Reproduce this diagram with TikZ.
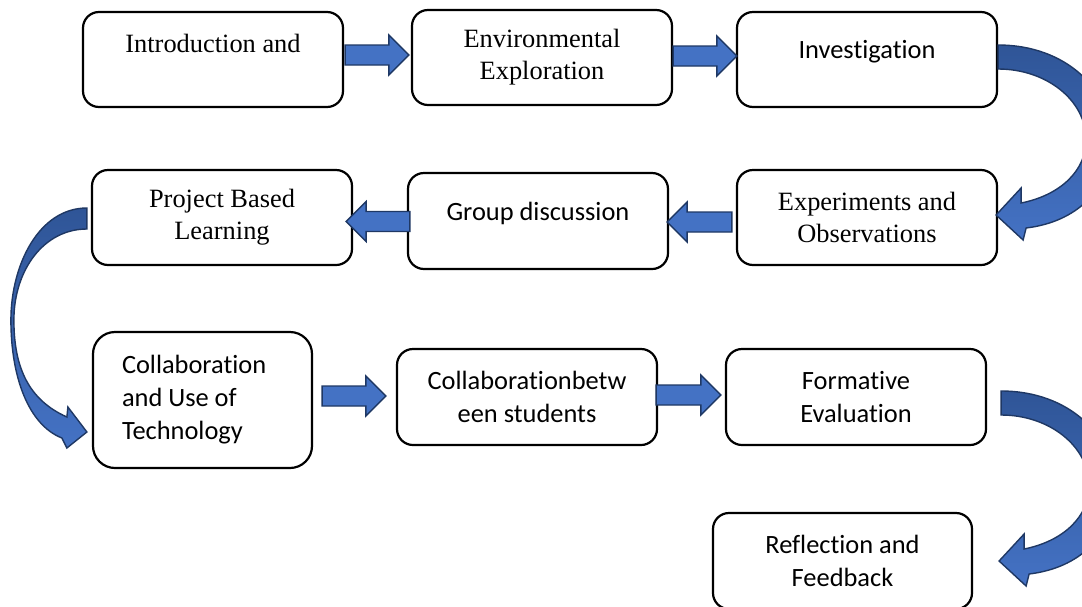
\documentclass[tikz,border=0pt]{standalone}
\usepackage{fontspec}
\setmainfont{Liberation Serif}
\newfontfamily\calibri[Ligatures=NoCommon]{Carlito}
\usepackage{tikz}
\usetikzlibrary{calc}
\definecolor{arrowblue}{RGB}{68,114,196}
\definecolor{arrowdark}{RGB}{47,85,151}
\definecolor{arrowedge}{RGB}{31,56,100}
\tikzstyle{stagebox} = [rectangle, draw, line width=1.1pt, rounded corners=8pt, minimum width=130pt, minimum height=47.5pt, align=center, inner sep=2pt]
\tikzstyle{serifbox} = [stagebox, font=\fontsize{13.2}{16}\selectfont]
\tikzstyle{sansbox} = [stagebox, font=\calibri\fontsize{13.2}{16.5}\selectfont]
\tikzstyle{blockarrow} = [fill=arrowblue, draw=arrowedge, line width=0.7pt]
\tikzstyle{bendarrow} = [top color=arrowdark, bottom color=arrowblue, draw=arrowedge, line width=0.7pt]
\newcommand{\blockarrow}[2]{\path[blockarrow] let \p1=#1, \p2=#2, \p3=($(\x2,\y1)!10pt!(\x1,\y1)$) in
    (\x1,{\y1+5pt}) -- (\x3,{\y1+5pt}) -- (\x3,{\y1+10pt}) -- (\x2,\y1)
    -- (\x3,{\y1-10pt}) -- (\x3,{\y1-5pt}) -- (\x1,{\y1-5pt}) -- cycle;}
\newcommand{\bendarrow}[1]{\draw[bendarrow, shift={#1}] (0,-14.5)
    .. controls (68,-14.5) and (113,30.5) .. (113,80.5)
    .. controls (113,130.5) and (78,162.5) .. (28,168.5)
    -- (25,180.5) -- (-2,155.5) -- (23,128.5) -- (23,143.5)
    .. controls (63,135.5) and (88,110.5) .. (88,80.5)
    .. controls (88,40.5) and (48,9.5) .. (0,9.5) -- cycle;}

\begin{document}
\begin{tikzpicture}[x=0.5pt, y=-0.5pt]
        \useasboundingbox (0,0) rectangle (1082,606);
        \clip (0,0) rectangle (1082,606);

        \node[serifbox, text height=9pt, text depth=15.8pt] at (213, 59.5) (Introduction) {Introduction and};
        \node[serifbox] at (542, 57.5) (Exploration) {Environmental\\Exploration};
        \node[sansbox, text height=9pt, text depth=10pt] at (867, 59.5) (Investigation) {Investigation};

        \node[serifbox] at (222, 217.5) (ProjectBased) {Project Based\\Learning};
        \node[sansbox, minimum height=48pt, text height=9pt, text depth=10pt] at (538, 221) (GroupDiscussion) {Group discussion};
        \node[serifbox] at (867, 217.5) (Experiments) {Experiments and\\Observations};

        \node[sansbox, minimum width=109.5pt, minimum height=68pt, rounded corners=11pt, text width=80.5pt, align=flush left] at (202.5, 400) (Technology) {Collaboration\\and Use of\\Technology};
        \node[sansbox, minimum height=48pt] at (527, 397) (Students) {Collaborationbetw\\een students};
        \node[sansbox, minimum height=48pt] at (856, 397) (Formative) {Formative\\Evaluation};

        \node[sansbox, minimum width=129.5pt, minimum height=48pt] at (842.5, 561) (Reflection) {Reflection and\\Feedback};

        \blockarrow{($(Introduction.east)+(1,-4.5)$)}{($(Exploration.west)+(-2,0)$)}
        \blockarrow{($(Exploration.east)+(0,-1.5)$)}{($(Investigation.west)+(1,0)$)}
        \blockarrow{($(GroupDiscussion.west)+(3,0.5)$)}{($(ProjectBased.east)+(-7,0)$)}
        \blockarrow{($(Experiments.west)+(-4,4.5)$)}{($(GroupDiscussion.east)+(-2,0)$)}
        \blockarrow{($(Technology.east)+(9,-4)$)}{($(Students.west)+(-10,0)$)}
        \blockarrow{($(Students.east)+(-2,-2)$)}{($(Formative.west)+(-4,0)$)}

        \bendarrow{(Investigation.east)}
        \bendarrow{($(Formative.east)+(14,8.5)$)}

        \draw[bendarrow, shift={(ProjectBased.west)}] (-4,-9.5)
            .. controls (-52,-9.5) and (-80,47.5) .. (-80,102.5)
            .. controls (-80,160.5) and (-62,207.5) .. (-29,220.5)
            -- (-24,230.5) -- (-4,214.5) -- (-23,189.5) -- (-24,199.5)
            .. controls (-62,182.5) and (-77,150.5) .. (-77,102.5)
            .. controls (-77,52.5) and (-47,11.5) .. (-4,11.5) -- cycle;

    \end{tikzpicture}
\end{document}
